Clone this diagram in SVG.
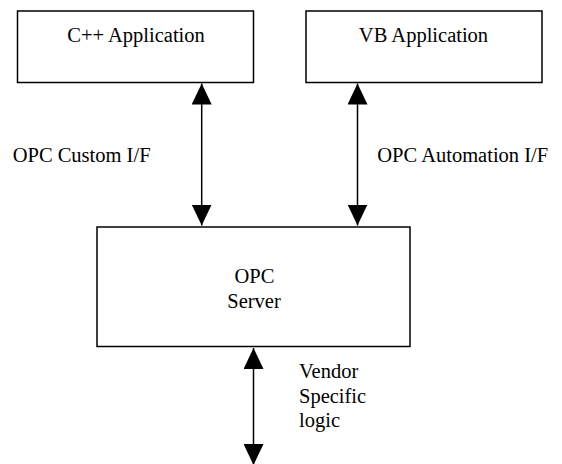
<svg xmlns="http://www.w3.org/2000/svg" width="562" height="464" viewBox="0 0 562 464">
  <style>
    .box { fill: #ffffff; stroke: #000000; stroke-width: 1.5; }
    text { font-family: 'Liberation Serif', 'Times New Roman', Times, serif; font-size: 20.5px; fill: #000000; }
    .mid { text-anchor: middle; }
    .link { stroke: #000000; stroke-width: 1.5; fill: none; marker-start: url(#head); marker-end: url(#head); }
  </style>
  <defs>
    <!-- filled triangular head, used at both ends of every link -->
    <marker id="head" viewBox="0 0 21 20" refX="21" refY="10" markerWidth="21" markerHeight="20" markerUnits="userSpaceOnUse" orient="auto-start-reverse">
      <path d="M0,0 L21,10 L0,20 Z" fill="#000000"/>
    </marker>
  </defs>
  <rect width="562" height="464" fill="#ffffff"/>

  <g id="cpp-app">
    <rect class="box" x="17.5" y="11" width="236" height="71.5"/>
    <text class="mid" x="136" y="42.3">C++ Application</text>
  </g>

  <g id="vb-app">
    <rect class="box" x="306" y="11" width="236" height="71.5"/>
    <text class="mid" x="423.5" y="42.3">VB Application</text>
  </g>

  <g id="opc-server">
    <rect class="box" x="97" y="227" width="313" height="119.5"/>
    <text class="mid" x="254.5" y="283.3">OPC</text>
    <text class="mid" x="254" y="308">Server</text>
  </g>

  <g id="connectors">
    <line class="link" x1="201.7" y1="83.5" x2="201.7" y2="225.5"/>
    <line class="link" x1="357.5" y1="83.5" x2="357.5" y2="225.5"/>
    <line class="link" x1="253.5" y1="348" x2="253.5" y2="465"/>
    <text x="12.7" y="161.7">OPC Custom I/F</text>
    <text x="377.3" y="161.7">OPC Automation I/F</text>
    <text x="299" y="377.7">Vendor</text>
    <text x="299" y="402.5">Specific</text>
    <text x="299" y="427">logic</text>
  </g>
</svg>
